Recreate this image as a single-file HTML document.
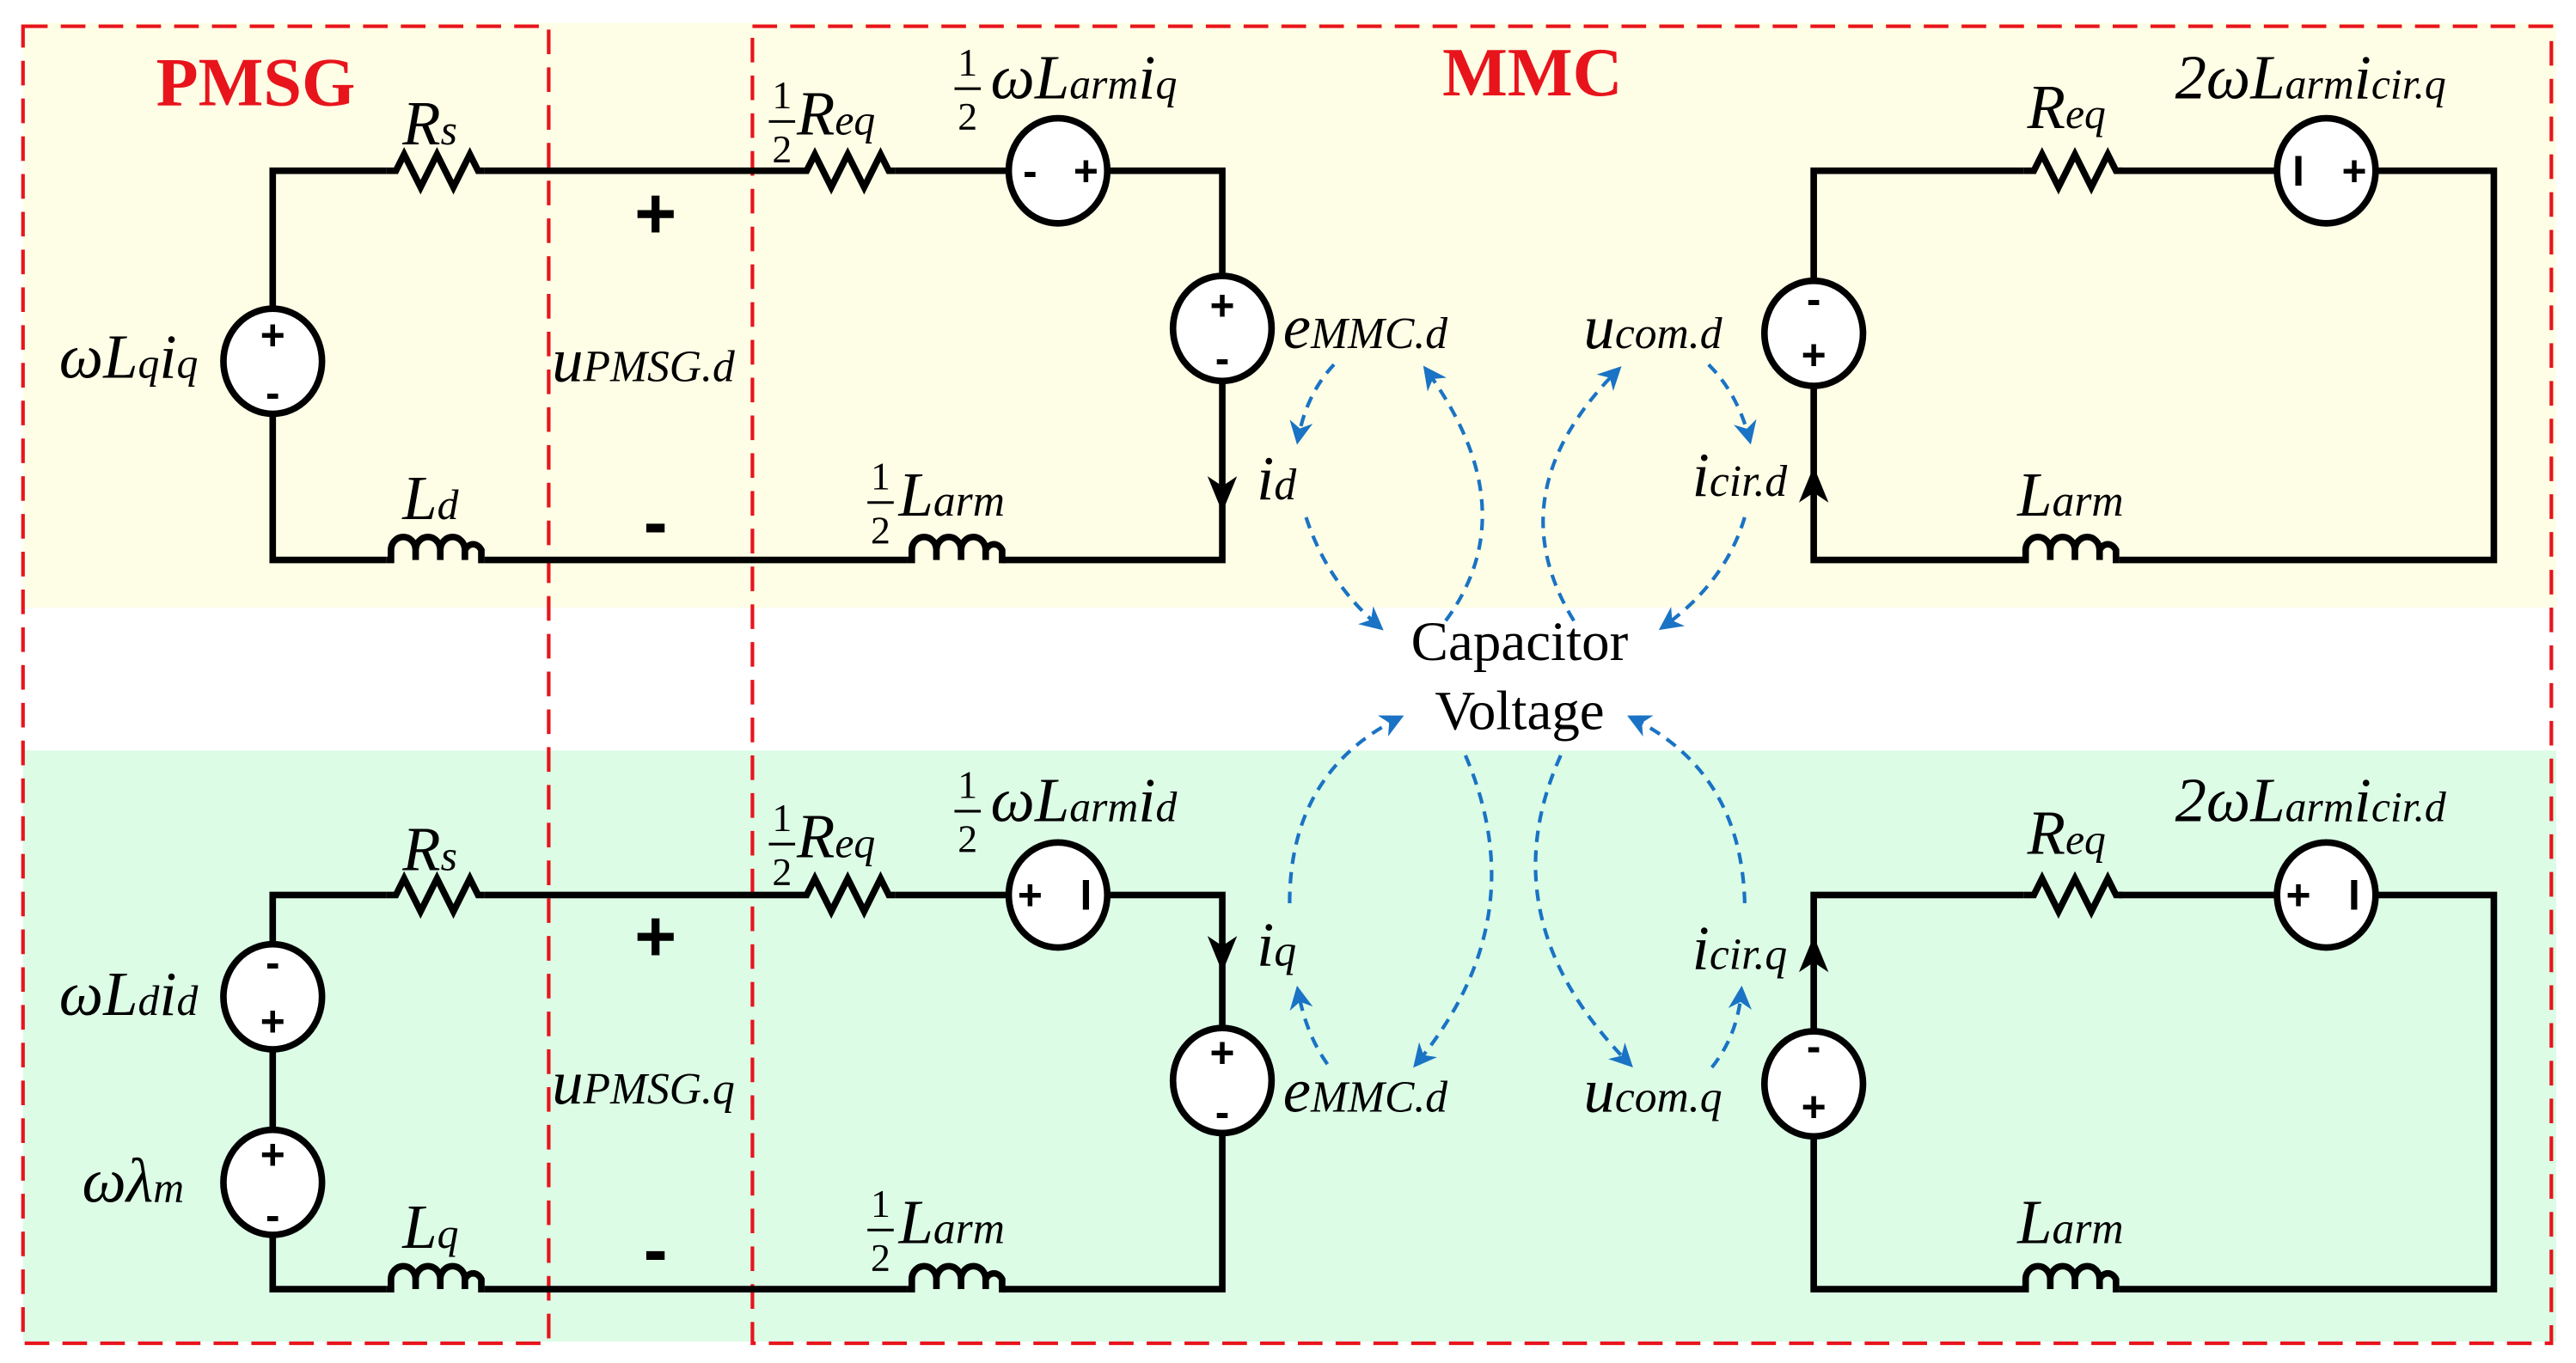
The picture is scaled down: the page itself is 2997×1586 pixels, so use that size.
<!DOCTYPE html>
<html><head><meta charset="utf-8"><style>html,body{margin:0;padding:0;background:#fff}svg{display:block}</style></head>
<body>
<svg width="2997" height="1586" viewBox="0 0 1568 830" preserveAspectRatio="none" xmlns="http://www.w3.org/2000/svg">
<defs>
<marker id="ba" viewBox="0 0 10 10" refX="8" refY="5" markerWidth="6.5" markerHeight="6.5" orient="auto"><path d="M0,0 L10,5 L0,10 L3,5 Z" fill="#1a73c4"/></marker>
<g id="res"><path d="M0,0 L6,0 L11,-10 L21,10 L31,-10 L41,10 L51,-10 L56,0 L60,0" fill="none" stroke="#000" stroke-width="4" stroke-linejoin="miter"/></g>
<g id="ind"><path d="M0,0 L3,0 L3,-6 A7.5,8 0 0 1 18,-6 L18,0 M18,-6 A7.5,8 0 0 1 33,-6 L33,0 M33,-6 A7.5,8 0 0 1 48,-6 L48,0 M48,-6 A6,8 0 0 1 58,-6 L58,0 L60,0" fill="none" stroke="#000" stroke-width="4"/></g>
</defs>
<rect x="0" y="0" width="1568" height="830" fill="#fff"/>
<rect x="14" y="14" width="1542" height="356" fill="#fefee6"/>
<rect x="14" y="457" width="1542" height="360" fill="#dcfce6"/>

<g fill="none" stroke="#e8141c" stroke-width="2.2" stroke-dasharray="15,8">
<rect x="14" y="16" width="320" height="802"/>
<rect x="458" y="16" width="1095" height="802"/>
</g>

<g fill="none" stroke="#000" stroke-width="4">
<polyline points="235,104 166,104 166,190"/>
<polyline points="166,250 166,341 235,341"/>
<line x1="295" y1="104" x2="485" y2="104"/>
<line x1="545" y1="104" x2="614" y2="104"/>
<polyline points="674,104 744,104 744,170"/>
<polyline points="744,230 744,341 610,341"/>
<line x1="295" y1="341" x2="552" y2="341"/>
<polyline points="1232,104 1104,104 1104,173"/>
<polyline points="1104,233 1104,341 1230,341"/>
<line x1="1290" y1="104" x2="1386" y2="104"/>
<polyline points="1446,104 1518,104 1518,341 1290,341"/>
<polyline points="235,545 166,545 166,577"/>
<line x1="166" y1="637" x2="166" y2="690"/>
<polyline points="166,750 166,785 235,785"/>
<line x1="295" y1="545" x2="485" y2="545"/>
<line x1="545" y1="545" x2="614" y2="545"/>
<polyline points="674,545 744,545 744,628"/>
<polyline points="744,688 744,785 610,785"/>
<line x1="295" y1="785" x2="552" y2="785"/>
<polyline points="1232,545 1104,545 1104,630"/>
<polyline points="1104,690 1104,785 1230,785"/>
<line x1="1290" y1="545" x2="1386" y2="545"/>
<polyline points="1446,545 1518,545 1518,785 1290,785"/>
</g>
<use href="#res" x="235" y="104"/><use href="#res" x="485" y="104"/><use href="#res" x="1232" y="104"/>
<use href="#res" x="235" y="545"/><use href="#res" x="485" y="545"/><use href="#res" x="1232" y="545"/>
<use href="#ind" x="235" y="341"/><use href="#ind" x="552" y="341"/><use href="#ind" x="1230" y="341"/>
<use href="#ind" x="235" y="785"/><use href="#ind" x="552" y="785"/><use href="#ind" x="1230" y="785"/>

<g fill="#fff" stroke="#000" stroke-width="4">
<ellipse cx="166" cy="220" rx="30" ry="32"/>
<ellipse cx="644" cy="104" rx="30" ry="32"/>
<ellipse cx="744" cy="200" rx="30" ry="32"/>
<ellipse cx="1104" cy="203" rx="30" ry="32"/>
<ellipse cx="1416" cy="104" rx="30" ry="32"/>
<ellipse cx="166" cy="607" rx="30" ry="32"/>
<ellipse cx="166" cy="720" rx="30" ry="32"/>
<ellipse cx="644" cy="545" rx="30" ry="32"/>
<ellipse cx="744" cy="658" rx="30" ry="32"/>
<ellipse cx="1104" cy="660" rx="30" ry="32"/>
<ellipse cx="1416" cy="545" rx="30" ry="32"/>
</g>
<g fill="#000">
<path d="M735,290 L744,312 L753,290 L744,296 Z"/>
<path d="M1095,306 L1104,284 L1113,306 L1104,300 Z"/>
<path d="M735,570 L744,592 L753,570 L744,576 Z"/>
<path d="M1095,592 L1104,570 L1113,592 L1104,586 Z"/>
</g>
<g font-family="Liberation Sans, sans-serif" font-weight="bold" font-size="26" text-anchor="middle" fill="#000">
<text x="166" y="213">+</text><text x="166" y="248">-</text>
<text x="627" y="113">-</text><text x="661" y="113">+</text>
<text x="744" y="195">+</text><text x="744" y="227">-</text>
<text x="1104" y="191">-</text><text x="1104" y="225">+</text>
<text x="1399" y="113">I</text><text x="1433" y="113">+</text>
<text x="166" y="595">-</text><text x="166" y="631">+</text>
<text x="166" y="712">+</text><text x="166" y="749">-</text>
<text x="627" y="554">+</text><text x="661" y="554">I</text>
<text x="744" y="650">+</text><text x="744" y="686">-</text>
<text x="1104" y="646">-</text><text x="1104" y="683">+</text>
<text x="1399" y="554">+</text><text x="1433" y="554">I</text>
</g>
<g font-family="Liberation Sans, sans-serif" font-weight="bold" font-size="44" text-anchor="middle" fill="#000">
<text x="399" y="145">+</text><text x="399" y="333">-</text>
<text x="399" y="585">+</text><text x="399" y="776">-</text>
</g>

<g fill="none" stroke="#1a73c4" stroke-width="2.2" stroke-dasharray="7,5" marker-end="url(#ba)">
<path d="M812,222 Q795,240 790,268"/>
<path d="M795,315 Q808,355 840,382"/>
<path d="M880,378 Q930,310 868,225"/>
<path d="M958,378 Q910,300 985,225"/>
<path d="M1040,222 Q1058,240 1065,268"/>
<path d="M1062,315 Q1050,355 1012,382"/>
<path d="M785,550 Q785,470 852,437"/>
<path d="M892,460 Q935,560 862,648"/>
<path d="M808,648 Q795,630 790,603"/>
<path d="M950,460 Q905,560 992,648"/>
<path d="M1042,650 Q1058,630 1060,603"/>
<path d="M1062,550 Q1060,470 993,437"/>
</g>

<g font-family="Liberation Serif, serif" font-weight="bold" font-size="42" fill="#e8141c">
<text x="95" y="64">PMSG</text><text x="878" y="58">MMC</text>
</g>
<g font-family="Liberation Serif, serif" font-size="34" fill="#000" text-anchor="middle">
<text x="925" y="402">Capacitor</text><text x="925" y="444">Voltage</text>
</g>

<g font-family="Liberation Serif, serif" font-style="italic" font-size="38" fill="#000">
<text x="245" y="88">R<tspan font-size="26">s</tspan></text>
<text x="245" y="530">R<tspan font-size="26">s</tspan></text>
<text x="245" y="316">L<tspan font-size="26">d</tspan></text>
<text x="245" y="760">L<tspan font-size="26">q</tspan></text>
<text x="36" y="230">ωL<tspan font-size="26">q</tspan>i<tspan font-size="26">q</tspan></text>
<text x="36" y="618">ωL<tspan font-size="26">d</tspan>i<tspan font-size="26">d</tspan></text>
<text x="50" y="732">ωλ<tspan font-size="26">m</tspan></text>
<text x="336" y="232">u<tspan font-size="27">PMSG.d</tspan></text>
<text x="336" y="672">u<tspan font-size="27">PMSG.q</tspan></text>
<text x="485" y="82">R<tspan font-size="26">eq</tspan></text>
<text x="485" y="522">R<tspan font-size="26">eq</tspan></text>
<text x="603" y="60">ωL<tspan font-size="26">arm</tspan>i<tspan font-size="26">q</tspan></text>
<text x="603" y="500">ωL<tspan font-size="26">arm</tspan>i<tspan font-size="26">d</tspan></text>
<text x="547" y="314">L<tspan font-size="27">arm</tspan></text>
<text x="547" y="757">L<tspan font-size="27">arm</tspan></text>
<text x="1234" y="78">R<tspan font-size="26">eq</tspan></text>
<text x="1234" y="520">R<tspan font-size="26">eq</tspan></text>
<text x="1324" y="60">2ωL<tspan font-size="26">arm</tspan>i<tspan font-size="26">cir.q</tspan></text>
<text x="1324" y="500">2ωL<tspan font-size="26">arm</tspan>i<tspan font-size="26">cir.d</tspan></text>
<text x="1228" y="314">L<tspan font-size="27">arm</tspan></text>
<text x="1228" y="757">L<tspan font-size="27">arm</tspan></text>
<text x="765" y="304">i<tspan font-size="27">d</tspan></text>
<text x="765" y="588">i<tspan font-size="27">q</tspan></text>
<text x="781" y="212">e<tspan font-size="27">MMC.d</tspan></text>
<text x="781" y="677">e<tspan font-size="27">MMC.d</tspan></text>
<text x="964" y="212">u<tspan font-size="27">com.d</tspan></text>
<text x="964" y="677">u<tspan font-size="27">com.q</tspan></text>
<text x="1030" y="302">i<tspan font-size="27">cir.d</tspan></text>
<text x="1030" y="590">i<tspan font-size="27">cir.q</tspan></text>
</g>
<g font-family="Liberation Serif, serif" font-size="24" fill="#000" text-anchor="middle">
<text x="476" y="66">1</text><text x="476" y="99">2</text>
<text x="589" y="46">1</text><text x="589" y="79">2</text>
<text x="536" y="298">1</text><text x="536" y="331">2</text>
<text x="476" y="506">1</text><text x="476" y="539">2</text>
<text x="589" y="486">1</text><text x="589" y="519">2</text>
<text x="536" y="741">1</text><text x="536" y="774">2</text>
</g>
<g stroke="#000" stroke-width="1.6">
<line x1="468" y1="74" x2="484" y2="74"/><line x1="581" y1="54" x2="597" y2="54"/>
<line x1="528" y1="306" x2="544" y2="306"/><line x1="468" y1="514" x2="484" y2="514"/>
<line x1="581" y1="494" x2="597" y2="494"/><line x1="528" y1="749" x2="544" y2="749"/>
</g>
</svg>
</body></html>
